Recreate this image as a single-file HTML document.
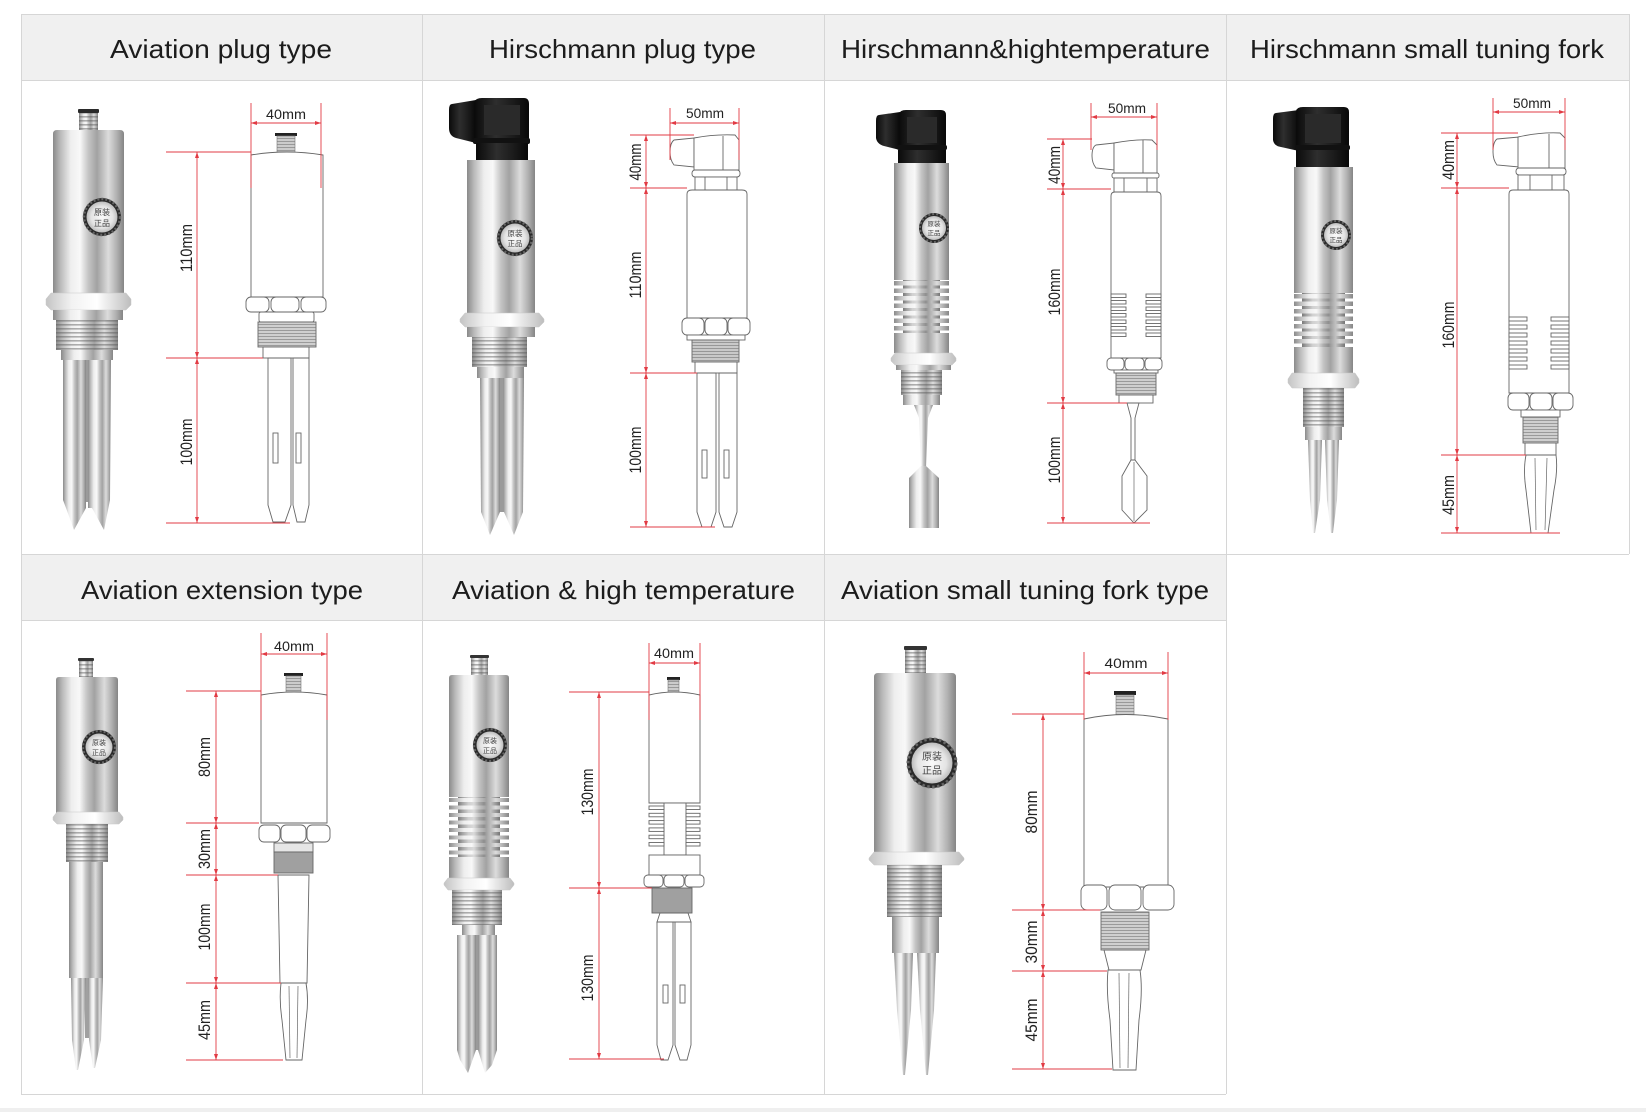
<!DOCTYPE html>
<html>
<head>
<meta charset="utf-8">
<style>
html,body{margin:0;padding:0;background:#fff;}
body{width:1646px;height:1112px;overflow:hidden;}
svg{display:block;}
.h{font-family:"Liberation Sans",sans-serif;font-size:26px;fill:#1c1c1c;}
.t{font-family:"Liberation Sans",sans-serif;font-size:14px;fill:#222;text-anchor:middle;}
.v{font-family:"Liberation Sans",sans-serif;font-size:17px;fill:#222;text-anchor:middle;}
.b{font-family:"Liberation Sans","Noto Sans CJK SC",sans-serif;fill:#444;text-anchor:middle;}
.dr{fill:#fff;stroke:#666;stroke-width:.9;}
.rd{stroke:#e23b44;stroke-width:.9;fill:none;}
.ra{fill:#e23b44;}
</style>
</head>
<body>
<svg width="1646" height="1112" viewBox="0 0 1646 1112" xmlns="http://www.w3.org/2000/svg">
<defs>
<linearGradient id="mH" x1="0" x2="1" y1="0" y2="0">
<stop offset="0" stop-color="#8a8a8a"/>
<stop offset=".1" stop-color="#b8b8b8"/>
<stop offset=".25" stop-color="#eeeeee"/>
<stop offset=".38" stop-color="#f8f8f8"/>
<stop offset=".5" stop-color="#c4c4c4"/>
<stop offset=".62" stop-color="#a2a2a2"/>
<stop offset=".78" stop-color="#dcdcdc"/>
<stop offset=".9" stop-color="#b0b0b0"/>
<stop offset="1" stop-color="#858585"/>
</linearGradient>
<linearGradient id="nut" x1="0" x2="1" y1="0" y2="0">
<stop offset="0" stop-color="#c4c4c4"/>
<stop offset=".3" stop-color="#f2f2f2"/>
<stop offset=".6" stop-color="#ffffff"/>
<stop offset="1" stop-color="#bdbdbd"/>
</linearGradient>
<linearGradient id="blk" x1="0" x2="1" y1="0" y2="0">
<stop offset="0" stop-color="#0a0a0a"/>
<stop offset=".4" stop-color="#2e2e2e"/>
<stop offset=".7" stop-color="#1c1c1c"/>
<stop offset="1" stop-color="#080808"/>
</linearGradient>
<radialGradient id="bdg">
<stop offset="0" stop-color="#fafafa"/>
<stop offset=".7" stop-color="#e4e4e4"/>
<stop offset="1" stop-color="#bdbdbd"/>
</radialGradient>
<pattern id="thr" width="4" height="4" patternUnits="userSpaceOnUse"><rect width="4" height="1.6" fill="#555" opacity=".45"/></pattern>
<pattern id="thrD" width="3" height="3" patternUnits="userSpaceOnUse"><rect width="3" height="1" fill="#777" opacity=".6"/></pattern>
</defs>

<!-- ========== GRID ========== -->
<rect x="21" y="14" width="1608" height="66" fill="#f0f0f0"/>
<rect x="21" y="554" width="1205" height="66" fill="#f0f0f0"/>
<rect x="0" y="1108" width="1646" height="4" fill="#efefef"/>
<g stroke="#d6d6d6" stroke-width="1">
<line x1="21" y1="14.5" x2="1629" y2="14.5"/>
<line x1="21" y1="80.5" x2="1629" y2="80.5"/>
<line x1="21" y1="554.5" x2="1629" y2="554.5"/>
<line x1="21" y1="620.5" x2="1226" y2="620.5"/>
<line x1="21" y1="1094.5" x2="1226" y2="1094.5"/>
<line x1="21.5" y1="14" x2="21.5" y2="1094"/>
<line x1="422.5" y1="14" x2="422.5" y2="1094"/>
<line x1="824.5" y1="14" x2="824.5" y2="1094"/>
<line x1="1226.5" y1="14" x2="1226.5" y2="1094"/>
<line x1="1629.5" y1="14" x2="1629.5" y2="554"/>
</g>

<!-- headers -->
<text class="h" x="110" y="58" textLength="222" lengthAdjust="spacingAndGlyphs">Aviation plug type</text>
<text class="h" x="489" y="58" textLength="267" lengthAdjust="spacingAndGlyphs">Hirschmann plug type</text>
<text class="h" x="841" y="58" textLength="369" lengthAdjust="spacingAndGlyphs">Hirschmann&amp;hightemperature</text>
<text class="h" x="1250" y="58" textLength="354" lengthAdjust="spacingAndGlyphs">Hirschmann small tuning fork</text>
<text class="h" x="81" y="599" textLength="282" lengthAdjust="spacingAndGlyphs">Aviation extension type</text>
<text class="h" x="452" y="599" textLength="343" lengthAdjust="spacingAndGlyphs">Aviation &amp; high temperature</text>
<text class="h" x="841" y="599" textLength="368" lengthAdjust="spacingAndGlyphs">Aviation small tuning fork type</text>

<!-- ========== CELL 1 PHOTO ========== -->
<rect x="79" y="112" width="19" height="19" fill="url(#mH)"/>
<rect x="79" y="112" width="19" height="19" fill="url(#thr)"/>
<rect x="78" y="109" width="21" height="4" rx="1" fill="#2a2a2a"/>
<path d="M53,134 Q53,130 57,130 L120,130 Q124,130 124,134 L124,293 L53,293 Z" fill="url(#mH)"/>
<circle cx="102" cy="217" r="19" fill="#2a2a2a"/>
<circle cx="102" cy="217" r="18" fill="none" stroke="#666" stroke-width="2.5" stroke-dasharray="2 2"/>
<circle cx="102" cy="217" r="15.5" fill="url(#bdg)"/>
<text class="b" x="102" y="215" font-size="8">原装</text>
<text class="b" x="102" y="226" font-size="8">正品</text>
<polygon points="46,299 51,293 126,293 131,299 131,305 126,310 51,310 46,305" fill="url(#nut)" stroke="#c8c8c8" stroke-width=".5"/>
<rect x="53" y="310" width="70" height="10" fill="url(#mH)"/>
<rect x="56" y="320" width="62" height="30" fill="url(#mH)"/>
<rect x="56" y="320" width="62" height="30" fill="url(#thr)"/>
<rect x="61" y="350" width="52" height="10" fill="url(#mH)"/>
<rect x="84" y="360" width="6" height="142" fill="#9a9a9a"/>
<polygon points="63,360 86,360 86,508 74,530 66,508 63,500" fill="url(#mH)"/>
<polygon points="88,360 111,360 110,500 104,530 92,508 88,508" fill="url(#mH)"/>

<!-- CELL 1 DRAWING -->
<rect x="275" y="133" width="22" height="3" fill="#222"/>
<rect x="277" y="136" width="18" height="16" fill="#ccc" stroke="#777" stroke-width=".6"/>
<rect x="277" y="136" width="18" height="16" fill="url(#thrD)"/>
<path class="dr" d="M251,155 Q287,149 323,155 L323,297 L251,297 Z"/>
<rect class="dr" x="246" y="297" width="23" height="15" rx="5"/>
<rect class="dr" x="271" y="297" width="28" height="15" rx="5"/>
<rect class="dr" x="301" y="297" width="25" height="15" rx="5"/>
<rect class="dr" x="259" y="312" width="55" height="10" rx="2"/>
<rect x="258" y="322" width="58" height="25" fill="#cfcfcf" stroke="#666" stroke-width=".9"/>
<rect x="258" y="322" width="58" height="25" fill="url(#thrD)"/>
<rect class="dr" x="263" y="347" width="46" height="11"/>
<polygon class="dr" points="268,358 291,358 291,505 285,522 273,522 268,505"/>
<polygon class="dr" points="293,358 309,358 309,505 305,522 297,522 293,505"/>
<rect class="dr" x="273" y="433" width="5" height="30"/>
<rect class="dr" x="296" y="433" width="5" height="30"/>
<g class="rd">
<line x1="251" y1="103" x2="251" y2="188"/><line x1="321" y1="103" x2="321" y2="188"/>
<line x1="251" y1="123" x2="321" y2="123"/>
<line x1="166" y1="152" x2="251" y2="152"/><line x1="166" y1="358" x2="263" y2="358"/><line x1="166" y1="523" x2="290" y2="523"/>
<line x1="197" y1="152" x2="197" y2="523"/>
</g>
<g class="ra">
<polygon points="251,123 257,121 257,125"/><polygon points="321,123 315,121 315,125"/>
<polygon points="197,152 195,158 199,158"/>
<polygon points="197,358 195,352 199,352"/><polygon points="197,358 195,364 199,364"/>
<polygon points="197,523 195,517 199,517"/>
</g>
<text class="t" x="286" y="119" textLength="40" lengthAdjust="spacingAndGlyphs">40mm</text>
<text class="v" transform="translate(186,248) rotate(-90)" dy="6" textLength="48" lengthAdjust="spacingAndGlyphs">110mm</text>
<text class="v" transform="translate(186,442) rotate(-90)" dy="6" textLength="47" lengthAdjust="spacingAndGlyphs">100mm</text>

<!-- ========== CELL 2 PHOTO ========== -->
<path d="M452,104 Q449,104 449,110 L449,128 Q449,136 456,138 L476,143 L476,100 Z" fill="url(#blk)"/>
<path d="M474,102 Q476,98 482,98 L524,98 Q529,98 529,104 L529,143 L474,143 Z" fill="url(#blk)"/>
<rect x="484" y="105" width="36" height="30" fill="#2a2a2a"/>
<rect x="473" y="138" width="57" height="6" rx="2" fill="#111"/>
<rect x="476" y="143" width="52" height="17" fill="url(#blk)"/>
<rect x="467" y="160" width="68" height="155" fill="url(#mH)"/>
<circle cx="515" cy="238" r="18" fill="#2a2a2a"/>
<circle cx="515" cy="238" r="17" fill="none" stroke="#666" stroke-width="2.5" stroke-dasharray="2 2"/>
<circle cx="515" cy="238" r="14.5" fill="url(#bdg)"/>
<text class="b" x="515" y="236" font-size="7.5">原装</text>
<text class="b" x="515" y="246" font-size="7.5">正品</text>
<polygon points="460,319 465,313 539,313 544,319 544,322 539,327 465,327 460,322" fill="url(#nut)" stroke="#c8c8c8" stroke-width=".5"/>
<rect x="467" y="327" width="68" height="10" fill="url(#mH)"/>
<rect x="472" y="337" width="55" height="30" fill="url(#mH)"/>
<rect x="472" y="337" width="55" height="30" fill="url(#thr)"/>
<rect x="477" y="367" width="47" height="11" fill="url(#mH)"/>
<rect x="498" y="378" width="7" height="134" fill="#9a9a9a"/>
<polygon points="480,378 500,378 500,512 490,535 481,512" fill="url(#mH)"/>
<polygon points="503,378 524,378 523,512 514,535 504,512" fill="url(#mH)"/>

<!-- CELL 2 DRAWING -->
<path class="dr" d="M674,140 L694,138 L694,167 L674,165 Q670,160 670,152 Q670,143 674,140 Z"/>
<path class="dr" d="M694,138 Q715,134 735,135 L739,140 L739,170 L694,170 Z"/>
<line x1="723" y1="136" x2="723" y2="170" stroke="#666" stroke-width=".9"/>
<rect class="dr" x="692" y="170" width="48" height="7" rx="3"/>
<rect class="dr" x="695" y="177" width="42" height="13"/>
<line x1="705" y1="177" x2="705" y2="190" stroke="#666" stroke-width=".9"/>
<line x1="727" y1="177" x2="727" y2="190" stroke="#666" stroke-width=".9"/>
<path class="dr" d="M687,194 Q687,190 692,190 L742,190 Q747,190 747,194 L747,318 L687,318 Z"/>
<rect class="dr" x="682" y="318" width="22" height="17" rx="5"/>
<rect class="dr" x="705" y="318" width="22" height="17" rx="5"/>
<rect class="dr" x="728" y="318" width="22" height="17" rx="5"/>
<rect class="dr" x="687" y="335" width="58" height="5"/>
<rect x="692" y="340" width="47" height="22" fill="#c9c9c9" stroke="#666" stroke-width=".9"/>
<rect x="692" y="340" width="47" height="22" fill="url(#thrD)"/>
<rect class="dr" x="695" y="362" width="42" height="11"/>
<polygon class="dr" points="697,373 716,373 716,512 711,527 702,527 697,512"/>
<polygon class="dr" points="719,373 737,373 737,512 732,527 724,527 719,512"/>
<rect class="dr" x="702" y="450" width="5" height="28"/>
<rect class="dr" x="724" y="450" width="5" height="28"/>
<g class="rd">
<line x1="670" y1="108" x2="670" y2="160"/><line x1="739" y1="108" x2="739" y2="160"/>
<line x1="670" y1="123" x2="739" y2="123"/>
<line x1="630" y1="135" x2="694" y2="135"/><line x1="630" y1="188" x2="687" y2="188"/>
<line x1="630" y1="373" x2="697" y2="373"/><line x1="630" y1="527" x2="715" y2="527"/>
<line x1="646" y1="135" x2="646" y2="527"/>
</g>
<g class="ra">
<polygon points="670,123 676,121 676,125"/><polygon points="739,123 733,121 733,125"/>
<polygon points="646,135 644,141 648,141"/>
<polygon points="646,188 644,182 648,182"/><polygon points="646,188 644,194 648,194"/>
<polygon points="646,373 644,367 648,367"/><polygon points="646,373 644,379 648,379"/>
<polygon points="646,527 644,521 648,521"/>
</g>
<text class="t" x="705" y="118" textLength="38" lengthAdjust="spacingAndGlyphs">50mm</text>
<text class="v" transform="translate(635,162) rotate(-90)" dy="6" textLength="37" lengthAdjust="spacingAndGlyphs">40mm</text>
<text class="v" transform="translate(635,275) rotate(-90)" dy="6" textLength="47" lengthAdjust="spacingAndGlyphs">110mm</text>
<text class="v" transform="translate(635,450) rotate(-90)" dy="6" textLength="47" lengthAdjust="spacingAndGlyphs">100mm</text>

<!-- ========== CELL 3 PHOTO ========== -->
<path d="M879,115 Q876,115 876,121 L876,138 Q877,144 884,146 L900,150 L900,112 Z" fill="url(#blk)"/>
<path d="M899,114 Q900,110 906,110 L941,110 Q946,110 946,115 L946,150 L899,150 Z" fill="url(#blk)"/>
<rect x="907" y="117" width="30" height="26" fill="#2a2a2a"/>
<rect x="897" y="145" width="50" height="5" rx="2" fill="#111"/>
<rect x="898" y="150" width="48" height="13" fill="url(#blk)"/>
<rect x="894" y="163" width="55" height="117" fill="url(#mH)"/>
<circle cx="934" cy="228" r="15" fill="#2a2a2a"/>
<circle cx="934" cy="228" r="14" fill="none" stroke="#666" stroke-width="2" stroke-dasharray="2 2"/>
<circle cx="934" cy="228" r="12" fill="url(#bdg)"/>
<text class="b" x="934" y="226" font-size="6.5">原装</text>
<text class="b" x="934" y="235" font-size="6.5">正品</text>
<rect x="903" y="280" width="37" height="53" fill="url(#mH)"/>
<rect x="903" y="280" width="37" height="53" fill="#000" opacity=".12"/>
<g fill="url(#mH)">
<rect x="894" y="281" width="55" height="4.5"/><rect x="894" y="288.5" width="55" height="4.5"/>
<rect x="894" y="296" width="55" height="4.5"/><rect x="894" y="303.5" width="55" height="4.5"/>
<rect x="894" y="311" width="55" height="4.5"/><rect x="894" y="318.5" width="55" height="4.5"/>
<rect x="894" y="326" width="55" height="4.5"/>
</g>
<rect x="894" y="333" width="55" height="20" fill="url(#mH)"/>
<polygon points="891,358 895,353 952,353 956,358 956,361 952,365 895,365 891,361" fill="url(#nut)" stroke="#c8c8c8" stroke-width=".5"/>
<rect x="896" y="365" width="55" height="5" fill="url(#mH)"/>
<rect x="901" y="370" width="41" height="25" fill="url(#mH)"/>
<rect x="901" y="370" width="41" height="25" fill="url(#thr)"/>
<rect x="903" y="395" width="37" height="10" fill="url(#mH)"/>
<polygon points="914,405 933,405 928,418 926,468 921,468 919,418" fill="url(#mH)"/>
<polygon points="921,466 926,466 939,478 939,528 909,528 909,478" fill="url(#mH)"/>

<!-- CELL 3 DRAWING -->
<path class="dr" d="M1096,145 L1114,143 L1114,170 L1096,168 Q1092,163 1092,156 Q1092,147 1096,145 Z"/>
<path class="dr" d="M1114,143 Q1135,139 1152,140 L1157,145 L1157,173 L1114,173 Z"/>
<line x1="1143" y1="140" x2="1143" y2="173" stroke="#666" stroke-width=".9"/>
<rect class="dr" x="1112" y="173" width="47" height="5" rx="2"/>
<rect class="dr" x="1114" y="178" width="43" height="14"/>
<line x1="1124" y1="178" x2="1124" y2="192" stroke="#666" stroke-width=".9"/>
<line x1="1147" y1="178" x2="1147" y2="192" stroke="#666" stroke-width=".9"/>
<path class="dr" d="M1111,196 Q1111,192 1115,192 L1157,192 Q1161,192 1161,196 L1161,358 L1111,358 Z"/>
<g class="dr">
<rect x="1111" y="294" width="15" height="3.5"/><rect x="1111" y="300.5" width="15" height="3.5"/>
<rect x="1111" y="307" width="15" height="3.5"/><rect x="1111" y="313.5" width="15" height="3.5"/>
<rect x="1111" y="320" width="15" height="3.5"/><rect x="1111" y="326.5" width="15" height="3.5"/>
<rect x="1111" y="333" width="15" height="3.5"/>
<rect x="1146" y="294" width="15" height="3.5"/><rect x="1146" y="300.5" width="15" height="3.5"/>
<rect x="1146" y="307" width="15" height="3.5"/><rect x="1146" y="313.5" width="15" height="3.5"/>
<rect x="1146" y="320" width="15" height="3.5"/><rect x="1146" y="326.5" width="15" height="3.5"/>
<rect x="1146" y="333" width="15" height="3.5"/>
</g>
<rect class="dr" x="1107" y="358" width="17" height="12" rx="4"/>
<rect class="dr" x="1125" y="358" width="19" height="12" rx="4"/>
<rect class="dr" x="1145" y="358" width="17" height="12" rx="4"/>
<rect class="dr" x="1114" y="370" width="44" height="3"/>
<rect x="1116" y="373" width="40" height="22" fill="#cfcfcf" stroke="#666" stroke-width=".9"/>
<rect x="1116" y="373" width="40" height="22" fill="url(#thrD)"/>
<rect class="dr" x="1119" y="395" width="34" height="8"/>
<polygon class="dr" points="1127,403 1139,403 1135,418 1135,460 1131,460 1131,418"/>
<polygon class="dr" points="1131,460 1135,460 1147,476 1147,510 1134,523 1122,510 1122,476"/>
<line x1="1134" y1="462" x2="1134" y2="521" stroke="#666" stroke-width=".7"/>
<g class="rd">
<line x1="1091" y1="103" x2="1091" y2="150"/><line x1="1157" y1="103" x2="1157" y2="150"/>
<line x1="1091" y1="117" x2="1157" y2="117"/>
<line x1="1047" y1="139" x2="1092" y2="139"/><line x1="1047" y1="189" x2="1111" y2="189"/>
<line x1="1047" y1="403" x2="1127" y2="403"/><line x1="1047" y1="523" x2="1150" y2="523"/>
<line x1="1063" y1="139" x2="1063" y2="523"/>
</g>
<g class="ra">
<polygon points="1091,117 1097,115 1097,119"/><polygon points="1157,117 1151,115 1151,119"/>
<polygon points="1063,139 1061,145 1065,145"/>
<polygon points="1063,189 1061,183 1065,183"/><polygon points="1063,189 1061,195 1065,195"/>
<polygon points="1063,403 1061,397 1065,397"/><polygon points="1063,403 1061,409 1065,409"/>
<polygon points="1063,523 1061,517 1065,517"/>
</g>
<text class="t" x="1127" y="113" textLength="38" lengthAdjust="spacingAndGlyphs">50mm</text>
<text class="v" transform="translate(1054,165) rotate(-90)" dy="6" textLength="38" lengthAdjust="spacingAndGlyphs">40mm</text>
<text class="v" transform="translate(1054,292) rotate(-90)" dy="6" textLength="47" lengthAdjust="spacingAndGlyphs">160mm</text>
<text class="v" transform="translate(1054,460) rotate(-90)" dy="6" textLength="47" lengthAdjust="spacingAndGlyphs">100mm</text>

<!-- ========== CELL 4 PHOTO ========== -->
<path d="M1276,113 Q1273,113 1273,119 L1273,140 Q1274,146 1281,147 L1299,151 L1299,110 Z" fill="url(#blk)"/>
<path d="M1296,111 Q1297,107 1303,107 L1344,107 Q1349,107 1349,112 L1349,150 L1296,150 Z" fill="url(#blk)"/>
<rect x="1305" y="114" width="36" height="29" fill="#2a2a2a"/>
<rect x="1295" y="145" width="55" height="5" rx="2" fill="#111"/>
<rect x="1296" y="150" width="53" height="17" fill="url(#blk)"/>
<rect x="1294" y="167" width="59" height="126" fill="url(#mH)"/>
<circle cx="1336" cy="235" r="15" fill="#2a2a2a"/>
<circle cx="1336" cy="235" r="14" fill="none" stroke="#666" stroke-width="2" stroke-dasharray="2 2"/>
<circle cx="1336" cy="235" r="12" fill="url(#bdg)"/>
<text class="b" x="1336" y="233" font-size="6.5">原装</text>
<text class="b" x="1336" y="242" font-size="6.5">正品</text>
<rect x="1302" y="293" width="43" height="54" fill="url(#mH)"/>
<rect x="1302" y="293" width="43" height="54" fill="#000" opacity=".12"/>
<g fill="url(#mH)">
<rect x="1294" y="294" width="59" height="4.5"/><rect x="1294" y="301.5" width="59" height="4.5"/>
<rect x="1294" y="309" width="59" height="4.5"/><rect x="1294" y="316.5" width="59" height="4.5"/>
<rect x="1294" y="324" width="59" height="4.5"/><rect x="1294" y="331.5" width="59" height="4.5"/>
<rect x="1294" y="339" width="59" height="4.5"/>
</g>
<rect x="1294" y="347" width="59" height="26" fill="url(#mH)"/>
<polygon points="1288,379 1292,373 1355,373 1359,379 1359,383 1355,388 1292,388 1288,383" fill="url(#nut)" stroke="#c8c8c8" stroke-width=".5"/>
<rect x="1303" y="388" width="41" height="39" fill="url(#mH)"/>
<rect x="1303" y="388" width="41" height="39" fill="url(#thr)"/>
<rect x="1305" y="427" width="37" height="13" fill="url(#mH)"/>
<path d="M1308,440 L1322,440 L1320,500 L1315,533 L1313,533 L1310,500 Z" fill="url(#mH)"/>
<path d="M1325,440 L1339,440 L1337,500 L1333,533 L1331,533 L1327,500 Z" fill="url(#mH)"/>

<!-- CELL 4 DRAWING -->
<path class="dr" d="M1497,139 L1519,137 L1519,167 L1497,165 Q1493,160 1493,152 Q1493,142 1497,139 Z"/>
<path class="dr" d="M1518,137 Q1540,132 1560,133 L1565,138 L1565,168 L1518,168 Z"/>
<line x1="1549" y1="134" x2="1549" y2="168" stroke="#666" stroke-width=".9"/>
<rect class="dr" x="1516" y="168" width="50" height="7" rx="3"/>
<rect class="dr" x="1518" y="175" width="46" height="15"/>
<line x1="1530" y1="175" x2="1530" y2="190" stroke="#666" stroke-width=".9"/>
<line x1="1552" y1="175" x2="1552" y2="190" stroke="#666" stroke-width=".9"/>
<path class="dr" d="M1509,194 Q1509,190 1513,190 L1565,190 Q1569,190 1569,194 L1569,393 L1509,393 Z"/>
<g class="dr">
<rect x="1509" y="317" width="18" height="4"/><rect x="1509" y="325" width="18" height="4"/>
<rect x="1509" y="333" width="18" height="4"/><rect x="1509" y="341" width="18" height="4"/>
<rect x="1509" y="349" width="18" height="4"/><rect x="1509" y="357" width="18" height="4"/>
<rect x="1509" y="365" width="18" height="4"/>
<rect x="1551" y="317" width="18" height="4"/><rect x="1551" y="325" width="18" height="4"/>
<rect x="1551" y="333" width="18" height="4"/><rect x="1551" y="341" width="18" height="4"/>
<rect x="1551" y="349" width="18" height="4"/><rect x="1551" y="357" width="18" height="4"/>
<rect x="1551" y="365" width="18" height="4"/>
</g>
<rect class="dr" x="1508" y="393" width="21" height="17" rx="5"/>
<rect class="dr" x="1530" y="393" width="22" height="17" rx="5"/>
<rect class="dr" x="1553" y="393" width="20" height="17" rx="5"/>
<rect class="dr" x="1521" y="410" width="39" height="7"/>
<rect x="1523" y="417" width="35" height="26" fill="#cfcfcf" stroke="#666" stroke-width=".9"/>
<rect x="1523" y="417" width="35" height="26" fill="url(#thrD)"/>
<rect class="dr" x="1525" y="443" width="31" height="12"/>
<path class="dr" d="M1526,455 L1556,455 Q1558,470 1554,490 L1548,533 L1531,533 L1526,490 Q1523,470 1526,455 Z"/>
<line x1="1535" y1="458" x2="1536" y2="530" stroke="#666" stroke-width=".7"/>
<line x1="1547" y1="458" x2="1545" y2="530" stroke="#666" stroke-width=".7"/>
<g class="rd">
<line x1="1493" y1="98" x2="1493" y2="150"/><line x1="1565" y1="98" x2="1565" y2="150"/>
<line x1="1493" y1="112" x2="1565" y2="112"/>
<line x1="1441" y1="133" x2="1518" y2="133"/><line x1="1441" y1="188" x2="1509" y2="188"/>
<line x1="1441" y1="455" x2="1526" y2="455"/><line x1="1441" y1="533" x2="1560" y2="533"/>
<line x1="1457" y1="133" x2="1457" y2="533"/>
</g>
<g class="ra">
<polygon points="1493,112 1499,110 1499,114"/><polygon points="1565,112 1559,110 1559,114"/>
<polygon points="1457,133 1455,139 1459,139"/>
<polygon points="1457,188 1455,182 1459,182"/><polygon points="1457,188 1455,194 1459,194"/>
<polygon points="1457,455 1455,449 1459,449"/><polygon points="1457,455 1455,461 1459,461"/>
<polygon points="1457,533 1455,527 1459,527"/>
</g>
<text class="t" x="1532" y="108" textLength="38" lengthAdjust="spacingAndGlyphs">50mm</text>
<text class="v" transform="translate(1448,160) rotate(-90)" dy="6" textLength="40" lengthAdjust="spacingAndGlyphs">40mm</text>
<text class="v" transform="translate(1448,325) rotate(-90)" dy="6" textLength="47" lengthAdjust="spacingAndGlyphs">160mm</text>
<text class="v" transform="translate(1448,495) rotate(-90)" dy="6" textLength="40" lengthAdjust="spacingAndGlyphs">45mm</text>

<!-- ========== CELL 5 PHOTO ========== -->
<rect x="79" y="661" width="14" height="16" fill="url(#mH)"/>
<rect x="79" y="661" width="14" height="16" fill="url(#thr)"/>
<rect x="78" y="658" width="16" height="3" rx="1" fill="#333"/>
<path d="M56,680 Q56,677 59,677 L115,677 Q118,677 118,680 L118,813 L56,813 Z" fill="url(#mH)"/>
<circle cx="99" cy="747" r="17" fill="#2a2a2a"/>
<circle cx="99" cy="747" r="16" fill="none" stroke="#666" stroke-width="2.2" stroke-dasharray="2 2"/>
<circle cx="99" cy="747" r="13.5" fill="url(#bdg)"/>
<text class="b" x="99" y="745" font-size="7">原装</text>
<text class="b" x="99" y="755" font-size="7">正品</text>
<polygon points="53,817 57,812 119,812 123,817 123,820 119,824 57,824 53,820" fill="url(#nut)" stroke="#c8c8c8" stroke-width=".5"/>
<rect x="66" y="824" width="42" height="38" fill="url(#mH)"/>
<rect x="66" y="824" width="42" height="38" fill="url(#thr)"/>
<rect x="69" y="862" width="34" height="116" fill="url(#mH)"/>
<rect x="85" y="978" width="4" height="60" fill="#a0a0a0"/>
<polygon points="71,978 86,978 84,1040 78,1070 76,1070 72,1040" fill="url(#mH)"/>
<polygon points="88,978 103,978 101,1040 95,1068 93,1068 89,1040" fill="url(#mH)"/>

<!-- CELL 5 DRAWING -->
<rect x="284" y="673" width="19" height="3" fill="#222"/>
<rect x="286" y="676" width="15" height="16" fill="#ccc" stroke="#777" stroke-width=".6"/>
<rect x="286" y="676" width="15" height="16" fill="url(#thrD)"/>
<path class="dr" d="M261,695 Q294,689 327,695 L327,823 L261,823 Z"/>
<rect class="dr" x="259" y="825" width="21" height="17" rx="5"/>
<rect class="dr" x="281" y="825" width="25" height="17" rx="5"/>
<rect class="dr" x="307" y="825" width="23" height="17" rx="5"/>
<rect x="274" y="843" width="39" height="9" fill="#e6e6e6" stroke="#666" stroke-width=".9"/>
<rect x="274" y="852" width="39" height="21" fill="#a0a0a0" stroke="#666" stroke-width=".9"/>
<path class="dr" d="M278,875 L309,875 L307,983 L280,983 Z"/>
<path class="dr" d="M281,983 L306,983 Q309,1000 306,1020 L302,1060 L286,1060 L282,1020 Q279,1000 281,983 Z"/>
<line x1="289" y1="986" x2="290" y2="1058" stroke="#666" stroke-width=".7"/>
<line x1="298" y1="986" x2="297" y2="1058" stroke="#666" stroke-width=".7"/>
<g class="rd">
<line x1="261" y1="633" x2="261" y2="720"/><line x1="327" y1="633" x2="327" y2="720"/>
<line x1="261" y1="654" x2="327" y2="654"/>
<line x1="186" y1="691" x2="261" y2="691"/><line x1="186" y1="823" x2="259" y2="823"/>
<line x1="186" y1="875" x2="278" y2="875"/><line x1="186" y1="983" x2="281" y2="983"/>
<line x1="186" y1="1060" x2="283" y2="1060"/>
<line x1="216" y1="691" x2="216" y2="1060"/>
</g>
<g class="ra">
<polygon points="261,654 267,652 267,656"/><polygon points="327,654 321,652 321,656"/>
<polygon points="216,691 214,697 218,697"/>
<polygon points="216,823 214,817 218,817"/><polygon points="216,823 214,829 218,829"/>
<polygon points="216,875 214,869 218,869"/><polygon points="216,875 214,881 218,881"/>
<polygon points="216,983 214,977 218,977"/><polygon points="216,983 214,989 218,989"/>
<polygon points="216,1060 214,1054 218,1054"/>
</g>
<text class="t" x="294" y="651" textLength="40" lengthAdjust="spacingAndGlyphs">40mm</text>
<text class="v" transform="translate(204,757) rotate(-90)" dy="6" textLength="40" lengthAdjust="spacingAndGlyphs">80mm</text>
<text class="v" transform="translate(204,849) rotate(-90)" dy="6" textLength="40" lengthAdjust="spacingAndGlyphs">30mm</text>
<text class="v" transform="translate(204,927) rotate(-90)" dy="6" textLength="47" lengthAdjust="spacingAndGlyphs">100mm</text>
<text class="v" transform="translate(204,1020) rotate(-90)" dy="6" textLength="40" lengthAdjust="spacingAndGlyphs">45mm</text>

<!-- ========== CELL 6 PHOTO ========== -->
<rect x="471" y="658" width="17" height="17" fill="url(#mH)"/>
<rect x="471" y="658" width="17" height="17" fill="url(#thr)"/>
<rect x="470" y="655" width="19" height="3" rx="1" fill="#333"/>
<path d="M449,678 Q449,675 452,675 L506,675 Q509,675 509,678 L509,797 L449,797 Z" fill="url(#mH)"/>
<circle cx="490" cy="745" r="17" fill="#2a2a2a"/>
<circle cx="490" cy="745" r="16" fill="none" stroke="#666" stroke-width="2.2" stroke-dasharray="2 2"/>
<circle cx="490" cy="745" r="13.5" fill="url(#bdg)"/>
<text class="b" x="490" y="743" font-size="7">原装</text>
<text class="b" x="490" y="753" font-size="7">正品</text>
<rect x="458" y="797" width="42" height="60" fill="url(#mH)"/>
<rect x="458" y="797" width="42" height="60" fill="#000" opacity=".12"/>
<g fill="url(#mH)">
<rect x="449" y="798" width="60" height="4"/><rect x="449" y="805.5" width="60" height="4"/>
<rect x="449" y="813" width="60" height="4"/><rect x="449" y="820.5" width="60" height="4"/>
<rect x="449" y="828" width="60" height="4"/><rect x="449" y="835.5" width="60" height="4"/>
<rect x="449" y="843" width="60" height="4"/><rect x="449" y="850.5" width="60" height="4"/>
</g>
<rect x="449" y="857" width="60" height="21" fill="url(#mH)"/>
<polygon points="444,883 448,878 510,878 514,883 514,885 510,890 448,890 444,885" fill="url(#nut)" stroke="#c8c8c8" stroke-width=".5"/>
<rect x="452" y="890" width="50" height="35" fill="url(#mH)"/>
<rect x="452" y="890" width="50" height="35" fill="url(#thr)"/>
<rect x="462" y="925" width="33" height="10" fill="url(#mH)"/>
<rect x="474" y="935" width="6" height="115" fill="#9a9a9a"/>
<polygon points="457,935 476,935 476,1050 468,1073 460,1060 457,1050" fill="url(#mH)"/>
<polygon points="478,935 497,935 497,1050 492,1065 485,1073 478,1050" fill="url(#mH)"/>

<!-- CELL 6 DRAWING -->
<rect x="667" y="677" width="13" height="3" fill="#222"/>
<rect x="668" y="680" width="11" height="12" fill="#ccc" stroke="#777" stroke-width=".6"/>
<rect x="668" y="680" width="11" height="12" fill="url(#thrD)"/>
<path class="dr" d="M649,695 Q674,689 700,695 L700,803 L649,803 Z"/>
<rect class="dr" x="664" y="803" width="22" height="52"/>
<g class="dr">
<rect x="649" y="806" width="15" height="3.5"/><rect x="649" y="813.3" width="15" height="3.5"/>
<rect x="649" y="820.6" width="15" height="3.5"/><rect x="649" y="827.9" width="15" height="3.5"/>
<rect x="649" y="835.2" width="15" height="3.5"/><rect x="649" y="842.5" width="15" height="3.5"/>
<rect x="686" y="806" width="14" height="3.5"/><rect x="686" y="813.3" width="14" height="3.5"/>
<rect x="686" y="820.6" width="14" height="3.5"/><rect x="686" y="827.9" width="14" height="3.5"/>
<rect x="686" y="835.2" width="14" height="3.5"/><rect x="686" y="842.5" width="14" height="3.5"/>
</g>
<rect class="dr" x="649" y="855" width="51" height="20"/>
<rect class="dr" x="644" y="875" width="19" height="12" rx="4"/>
<rect class="dr" x="664" y="875" width="20" height="12" rx="4"/>
<rect class="dr" x="685" y="875" width="19" height="12" rx="4"/>
<rect x="652" y="888" width="40" height="25" fill="#a0a0a0" stroke="#666" stroke-width=".9"/>
<path class="dr" d="M660,913 L688,913 L691,922 L657,922 Z"/>
<polygon class="dr" points="657,922 673,922 673,1045 668,1060 661,1060 657,1045"/>
<polygon class="dr" points="675,922 691,922 691,1045 687,1060 680,1060 675,1045"/>
<rect class="dr" x="663" y="985" width="5" height="18"/>
<rect class="dr" x="680" y="985" width="5" height="18"/>
<g class="rd">
<line x1="649" y1="643" x2="649" y2="720"/><line x1="700" y1="643" x2="700" y2="720"/>
<line x1="649" y1="663" x2="700" y2="663"/>
<line x1="569" y1="692" x2="649" y2="692"/><line x1="569" y1="888" x2="652" y2="888"/>
<line x1="569" y1="1059" x2="664" y2="1059"/>
<line x1="599" y1="692" x2="599" y2="1059"/>
</g>
<g class="ra">
<polygon points="649,663 655,661 655,665"/><polygon points="700,663 694,661 694,665"/>
<polygon points="599,692 597,698 601,698"/>
<polygon points="599,888 597,882 601,882"/><polygon points="599,888 597,894 601,894"/>
<polygon points="599,1059 597,1053 601,1053"/>
</g>
<text class="t" x="674" y="658" textLength="40" lengthAdjust="spacingAndGlyphs">40mm</text>
<text class="v" transform="translate(587,792) rotate(-90)" dy="6" textLength="47" lengthAdjust="spacingAndGlyphs">130mm</text>
<text class="v" transform="translate(587,978) rotate(-90)" dy="6" textLength="47" lengthAdjust="spacingAndGlyphs">130mm</text>

<!-- ========== CELL 7 PHOTO ========== -->
<rect x="905" y="650" width="21" height="23" fill="url(#mH)"/>
<rect x="905" y="650" width="21" height="23" fill="url(#thr)"/>
<rect x="904" y="646" width="23" height="4" rx="1" fill="#333"/>
<path d="M874,677 Q874,673 878,673 L952,673 Q956,673 956,677 L956,853 L874,853 Z" fill="url(#mH)"/>
<circle cx="932" cy="763" r="25" fill="#2a2a2a"/>
<circle cx="932" cy="763" r="24" fill="none" stroke="#666" stroke-width="3" stroke-dasharray="2.5 2.5"/>
<circle cx="932" cy="763" r="20.5" fill="url(#bdg)"/>
<text class="b" x="932" y="760" font-size="10">原装</text>
<text class="b" x="932" y="774" font-size="10">正品</text>
<polygon points="869,858 874,852 959,852 964,858 964,860 959,865 874,865 869,860" fill="url(#nut)" stroke="#c8c8c8" stroke-width=".5"/>
<rect x="887" y="865" width="55" height="52" fill="url(#mH)"/>
<rect x="887" y="865" width="55" height="52" fill="url(#thr)"/>
<rect x="892" y="917" width="47" height="36" fill="url(#mH)"/>
<polygon points="894,953 913,953 911,1010 905,1075 903,1075 897,1010" fill="url(#mH)"/>
<polygon points="917,953 936,953 934,1010 928,1075 926,1075 920,1010" fill="url(#mH)"/>

<!-- CELL 7 DRAWING -->
<rect x="1114" y="691" width="22" height="4" fill="#222"/>
<rect x="1116" y="695" width="18" height="20" fill="#ccc" stroke="#777" stroke-width=".6"/>
<rect x="1116" y="695" width="18" height="20" fill="url(#thrD)"/>
<path class="dr" d="M1084,719 Q1126,710 1168,719 L1168,887 L1084,887 Z"/>
<rect class="dr" x="1081" y="885" width="26" height="25" rx="6"/>
<rect class="dr" x="1109" y="885" width="32" height="25" rx="6"/>
<rect class="dr" x="1143" y="885" width="31" height="25" rx="6"/>
<rect x="1101" y="912" width="48" height="38" fill="#cfcfcf" stroke="#666" stroke-width=".9"/>
<rect x="1101" y="912" width="48" height="38" fill="url(#thrD)"/>
<path class="dr" d="M1104,950 L1146,950 L1141,970 L1109,970 Z"/>
<path class="dr" d="M1108,970 L1140,970 Q1143,990 1139,1020 L1136,1070 L1113,1070 L1110,1020 Q1106,990 1108,970 Z"/>
<line x1="1119" y1="973" x2="1120" y2="1068" stroke="#666" stroke-width=".7"/>
<line x1="1129" y1="973" x2="1128" y2="1068" stroke="#666" stroke-width=".7"/>
<g class="rd">
<line x1="1084" y1="652" x2="1084" y2="720"/><line x1="1168" y1="652" x2="1168" y2="720"/>
<line x1="1084" y1="673" x2="1168" y2="673"/>
<line x1="1012" y1="714" x2="1084" y2="714"/><line x1="1012" y1="910" x2="1100" y2="910"/>
<line x1="1012" y1="971" x2="1107" y2="971"/><line x1="1012" y1="1069" x2="1112" y2="1069"/>
<line x1="1043" y1="714" x2="1043" y2="1069"/>
</g>
<g class="ra">
<polygon points="1084,673 1090,671 1090,675"/><polygon points="1168,673 1162,671 1162,675"/>
<polygon points="1043,714 1041,720 1045,720"/>
<polygon points="1043,910 1041,904 1045,904"/><polygon points="1043,910 1041,916 1045,916"/>
<polygon points="1043,971 1041,965 1045,965"/><polygon points="1043,971 1041,977 1045,977"/>
<polygon points="1043,1069 1041,1063 1045,1063"/>
</g>
<text class="t" x="1126" y="668" textLength="43" lengthAdjust="spacingAndGlyphs">40mm</text>
<text class="v" transform="translate(1031,812) rotate(-90)" dy="6" textLength="43" lengthAdjust="spacingAndGlyphs">80mm</text>
<text class="v" transform="translate(1031,942) rotate(-90)" dy="6" textLength="43" lengthAdjust="spacingAndGlyphs">30mm</text>
<text class="v" transform="translate(1031,1020) rotate(-90)" dy="6" textLength="43" lengthAdjust="spacingAndGlyphs">45mm</text>
</svg>
</body>
</html>
